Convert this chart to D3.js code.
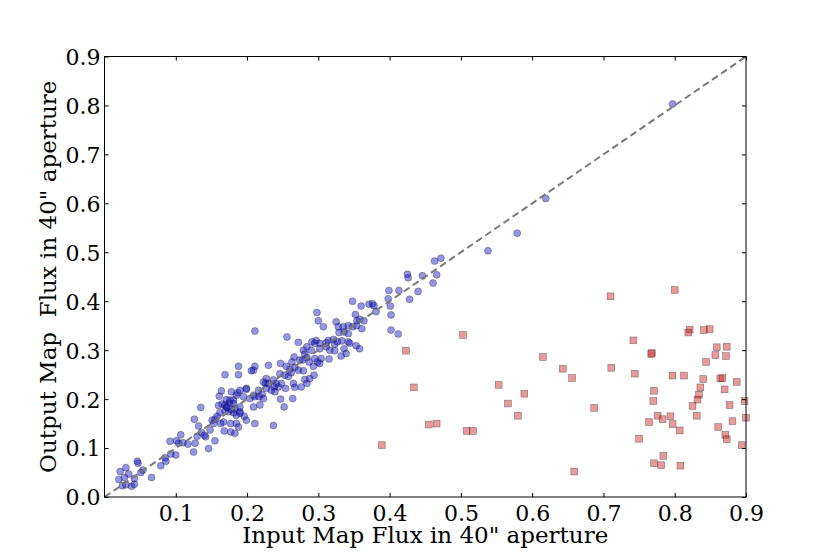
<!DOCTYPE html>
<html><head><meta charset="utf-8">
<script src="https://cdn.jsdelivr.net/npm/d3@7"></script>
<style>body{margin:0;background:#fff}</style>
</head><body>
<script>
// Blue: matched sources (input, output)
const blueX = [0.022,0.030,0.034,0.020,0.028,0.025,0.030,0.038,0.042,0.042,0.046,0.047,0.054,0.051,0.066,0.079,0.085,0.086,0.093,0.100,0.092,0.101,0.107,0.104,0.110,0.117,0.125,0.127,0.132,0.126,0.130,0.136,0.140,0.142,0.146,0.155,0.148,0.153,0.151,0.155,0.158,0.162,0.160,0.165,0.171,0.175,0.171,0.169,0.174,0.178,0.181,0.185,0.178,0.187,0.167,0.163,0.168,0.177,0.183,0.177,0.185,0.181,0.135,0.161,
0.399,0.413,0.440,0.428,0.398,0.348,0.360,0.371,0.376,0.378,0.381,0.401,0.402,0.402,0.412,0.298,0.300,0.307,0.325,0.352,0.354,0.358,0.364,0.328,0.335,0.342,0.348,0.354,0.361,0.329,0.336,0.342,0.211,0.256,0.297,0.272,0.291,0.295,0.302,0.311,0.314,0.321,0.323,0.327,0.333,0.342,0.344,0.353,0.358,0.284,0.279,0.290,0.302,0.311,0.316,0.323,0.336,0.339,0.315,0.332,0.281,0.284,0.278,0.287,0.295,0.299,0.293,0.302,0.304,0.266,0.263,0.274,0.188,0.211,0.230,0.247,0.255,0.209,0.206,0.260,0.267,0.272,0.279,0.246,0.253,0.262,0.258,0.169,0.188,0.227,0.223,0.230,0.237,0.241,0.244,0.238,0.248,0.254,0.265,0.267,0.276,0.281,0.284,0.288,0.294,0.247,0.252,0.264,0.239,0.216,0.199,0.190,0.164,0.209,0.204,0.195,0.185,0.169,0.183,0.190,0.209,0.218,0.211,0.237,0.188,
0.226,0.234,0.227,0.217,0.221,0.223,0.190,0.190,0.196,0.199,0.176,0.181,0.172,0.199,0.211,
0.797,0.619,0.579,0.538,0.463,0.472,0.425,0.426,0.446,0.466,0.461];
const blueY = [0.052,0.060,0.047,0.036,0.040,0.023,0.025,0.022,0.026,0.038,0.073,0.069,0.055,0.050,0.040,0.064,0.080,0.073,0.088,0.086,0.114,0.115,0.127,0.110,0.111,0.108,0.092,0.110,0.145,0.159,0.124,0.132,0.126,0.123,0.099,0.115,0.137,0.150,0.157,0.159,0.165,0.172,0.187,0.190,0.199,0.192,0.184,0.176,0.174,0.178,0.172,0.167,0.215,0.213,0.153,0.150,0.135,0.133,0.130,0.150,0.150,0.198,0.183,0.206,
0.422,0.422,0.420,0.404,0.405,0.400,0.390,0.394,0.395,0.391,0.379,0.390,0.372,0.341,0.333,0.377,0.360,0.348,0.358,0.373,0.360,0.363,0.360,0.348,0.348,0.350,0.348,0.350,0.344,0.336,0.337,0.334,0.339,0.327,0.320,0.316,0.317,0.314,0.314,0.315,0.320,0.322,0.312,0.317,0.319,0.317,0.314,0.309,0.303,0.307,0.300,0.300,0.303,0.307,0.300,0.299,0.303,0.293,0.282,0.288,0.292,0.285,0.280,0.276,0.283,0.276,0.267,0.273,0.283,0.286,0.276,0.280,0.267,0.267,0.269,0.273,0.267,0.259,0.258,0.261,0.265,0.259,0.258,0.252,0.249,0.254,0.246,0.250,0.250,0.242,0.235,0.232,0.239,0.232,0.225,0.225,0.232,0.222,0.232,0.224,0.225,0.240,0.232,0.242,0.249,0.200,0.184,0.201,0.215,0.218,0.222,0.218,0.217,0.208,0.201,0.205,0.208,0.188,0.181,0.174,0.184,0.188,0.150,0.146,0.143,
0.232,0.218,0.222,0.205,0.210,0.201,0.184,0.171,0.165,0.157,0.198,0.191,0.183,0.220,0.205,
0.803,0.610,0.539,0.503,0.482,0.488,0.455,0.448,0.452,0.454,0.437];

// Red: unmatched sources (input, output)
const redX = [0.800,0.710,0.503,0.423,0.821,0.819,0.841,0.849,0.742,0.768,0.767,0.859,0.873,0.857,0.872,0.844,0.615,0.643,0.711,0.656,0.744,0.797,0.813,0.840,0.864,0.867,0.887,0.434,0.553,0.589,0.836,0.870,0.771,0.834,0.832,0.770,0.566,0.687,0.825,0.877,0.898,0.580,0.776,0.794,0.783,0.831,0.764,0.797,0.881,0.900,0.455,0.466,0.508,0.517,0.807,0.861,0.871,0.873,0.750,0.894,0.784,0.771,0.781,0.808,0.659,0.389];
const redY = [0.423,0.410,0.331,0.299,0.342,0.336,0.341,0.343,0.320,0.294,0.292,0.306,0.307,0.290,0.288,0.276,0.286,0.262,0.264,0.243,0.252,0.248,0.248,0.241,0.242,0.243,0.235,0.224,0.229,0.211,0.224,0.220,0.217,0.209,0.199,0.196,0.191,0.182,0.186,0.188,0.196,0.166,0.166,0.165,0.159,0.166,0.153,0.149,0.155,0.162,0.148,0.150,0.135,0.135,0.136,0.143,0.127,0.118,0.119,0.106,0.084,0.069,0.065,0.064,0.052,0.106];

const xTicks = [0.1,0.2,0.3,0.4,0.5,0.6,0.7,0.8,0.9];
const yTicks = [0.0,0.1,0.2,0.3,0.4,0.5,0.6,0.7,0.8,0.9];
const xLabel = 'Input Map Flux in 40" aperture';
const yLabel = 'Output Map  Flux in 40" aperture';

const W = 830, H = 554;
const L = 104.5, R = 746, T = 56.5, B = 497;
const svg = d3.select("body").append("svg").attr("width", W).attr("height", H);
const x = d3.scaleLinear().domain([0, 0.9]).range([L, R]);
const y = d3.scaleLinear().domain([0, 0.9]).range([B, T]);
const font = "'DejaVu Serif', serif";

const blue = blueX.map((v, i) => [v, blueY[i]]);
const red = redX.map((v, i) => [v, redY[i]]);

const plot = svg.append("g");
plot.selectAll("circle").data(blue).join("circle")
  .attr("cx", d => x(d[0])).attr("cy", d => y(d[1])).attr("r", 3.5)
  .attr("fill", "rgb(20,20,200)").attr("fill-opacity", 0.45)
  .attr("stroke", "#000").attr("stroke-opacity", 0.45).attr("stroke-width", 0.6);
plot.selectAll("rect.r").data(red).join("rect").attr("class", "r")
  .attr("x", d => x(d[0]) - 3.4).attr("y", d => y(d[1]) - 3.4)
  .attr("width", 6.8).attr("height", 6.8)
  .attr("fill", "rgb(205,30,30)").attr("fill-opacity", 0.45)
  .attr("stroke", "#000").attr("stroke-opacity", 0.45).attr("stroke-width", 0.6);

svg.append("line")
  .attr("x1", x(0)).attr("y1", y(0)).attr("x2", x(0.9)).attr("y2", y(0.9))
  .attr("stroke", "#7a7a7a").attr("stroke-width", 2).attr("stroke-dasharray", "7,4");

// axes
const ax = svg.append("g").attr("transform", `translate(0,${B})`)
  .call(d3.axisBottom(x).tickValues(xTicks).tickFormat(d3.format(".1f")).tickSizeInner(-4).tickSizeOuter(0));
const ay = svg.append("g").attr("transform", `translate(${L},0)`)
  .call(d3.axisLeft(y).tickValues(yTicks).tickFormat(d3.format(".1f")).tickSizeInner(-4).tickSizeOuter(0));
const axT = svg.append("g").attr("transform", `translate(0,${T})`)
  .call(d3.axisTop(x).tickValues(xTicks).tickFormat("").tickSizeInner(-4).tickSizeOuter(0));
const ayR = svg.append("g").attr("transform", `translate(${R},0)`)
  .call(d3.axisRight(y).tickValues(yTicks).tickFormat("").tickSizeInner(-4).tickSizeOuter(0));
[ax, ay, axT, ayR].forEach(g => {
  g.select(".domain").remove();
  g.selectAll(".tick line").attr("stroke", "#000").attr("stroke-width", 1);
  g.selectAll(".tick text").attr("font-family", font).attr("font-size", 22).attr("fill", "#000");
});
ax.selectAll(".tick text").attr("y", 23.5).attr("dy", 0);
ay.selectAll(".tick text").attr("x", -4).attr("dy", "0.36em");

svg.append("rect").attr("x", L).attr("y", T).attr("width", R - L).attr("height", B - T)
  .attr("fill", "none").attr("stroke", "#000").attr("stroke-width", 1);

svg.append("text").attr("x", (L + R) / 2).attr("y", 543).attr("text-anchor", "middle")
  .attr("font-family", font).attr("font-size", 23).text(xLabel);
svg.append("text").attr("transform", `translate(56,${(T + B) / 2}) rotate(-90)`).attr("text-anchor", "middle")
  .style("white-space", "pre").attr("xml:space", "preserve")
  .attr("font-family", font).attr("font-size", 23).text(yLabel);
</script>
</body></html>
